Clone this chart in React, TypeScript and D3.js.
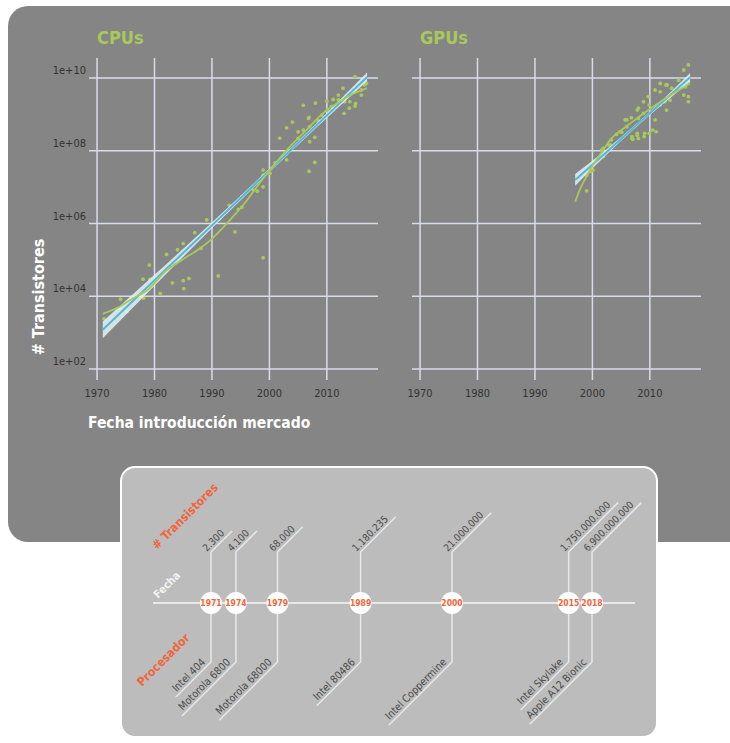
import * as d3 from "d3";

// [year, log10(# transistores)]
const cpuPoints: [number, number][] = [
  [1971.2, 3.38], [1974.1, 3.92], [1974, 3.67], [1975.2, 3.58], [1976.1, 3.94],
  [1978.1, 3.95], [1978, 4.47], [1979.1, 4.86], [1979.2, 4.47], [1981, 4.08],
  [1982.1, 5.15], [1983.1, 4.37], [1984, 5.28], [1985, 5.45], [1985, 4.43],
  [1985.1, 4.21], [1986, 4.49], [1987, 5.75], [1988.1, 5.32], [1989.1, 6.1],
  [1991.1, 4.56], [1991.3, 6.13], [1993, 6.5], [1994, 5.77], [1994.6, 6.39],
  [1995.2, 6.74], [1995.2, 6.45], [1997.2, 6.92], [1997.9, 6.89], [1998.9, 5.06],
  [1998.9, 7.01], [1998.9, 7.33], [1998.9, 7.47], [2000.1, 7.38], [2001, 7.67],
  [2001.8, 8.35], [2003, 7.75], [2003.3, 8.02], [2003, 8.63], [2004, 8.79],
  [2005, 8.34], [2005, 8.52], [2005.9, 8.57], [2005.9, 9.25], [2006.9, 8.92],
  [2006.8, 8.89], [2007, 8.66], [2007, 8.25], [2006.9, 7.44], [2007.9, 7.68],
  [2007.9, 8.37], [2008, 9.31], [2008.5, 8.83], [2009.1, 8.98], [2010, 9.36],
  [2010.1, 9.12], [2010.8, 9.21], [2011.1, 9.41], [2012, 9.53], [2012, 9.3],
  [2012, 9.4], [2012.8, 9.72], [2013, 9.03], [2013.1, 9.35], [2013.9, 9.17],
  [2014, 9.35], [2014.9, 10.04], [2014.9, 9.23], [2015, 9.3], [2015.7, 9.85],
  [2016, 9.67], [2016, 9.53], [2016.6, 9.81], [2016.9, 9.85],
];

const gpuPoints: [number, number][] = [
  [1999, 6.9], [1999, 7.33], [1999.7, 7.43], [2000.1, 7.47], [2000.4, 7.7],
  [2001.6, 8.02], [2001.9, 7.84], [2001.9, 8.07], [2002.8, 8.16], [2003.1, 8.16],
  [2003.3, 8.3], [2004.2, 8.45], [2004.8, 8.52], [2005.1, 8.51], [2005.7, 8.85],
  [2006, 8.85], [2006, 8.66], [2006.8, 8.91], [2006.9, 8.39], [2006.9, 8.34],
  [2007, 8.32], [2007.8, 8.48], [2007.8, 8.43], [2007.8, 9.12], [2008, 9.17],
  [2008, 8.89], [2008, 8.34], [2008.9, 9.03], [2008.9, 9.35], [2009, 8.39],
  [2009.1, 8.48], [2009.7, 9.49], [2009.9, 9.26], [2009.9, 8.48], [2010.5, 8.57],
  [2010.9, 8.85], [2010.9, 9.67], [2011.1, 8.52], [2011.8, 9.62], [2011.8, 9.85],
  [2011.8, 9.26], [2012.6, 9.35], [2012.8, 9.81], [2012.9, 9.12], [2013, 9.81],
  [2013.5, 9.39], [2013.8, 9.72], [2015, 9.94], [2015.9, 10.22], [2015.9, 9.53],
  [2016.2, 9.76], [2016.7, 10.36], [2016.7, 9.9], [2016.7, 9.49], [2016.7, 9.35],
];

// linear fit (log10) with its confidence band: year, fit, half width
const cpuFitYears = [1971, 1980, 1990, 2000, 2008, 2017];
const cpuFitMid = [3.08, 4.44, 5.95, 7.46, 8.67, 10.03];
const cpuFitHalf = [0.23, 0.15, 0.08, 0.05, 0.06, 0.12];

const gpuFitYears = [1997, 2002, 2007, 2012, 2017];
const gpuFitMid = [7.2, 7.9, 8.61, 9.31, 10.02];
const gpuFitHalf = [0.16, 0.08, 0.045, 0.06, 0.12];

// loess smooth
const cpuSmoothYears = [1971, 1974, 1976, 1979, 1982, 1985, 1988, 1990, 1992, 1994, 1996, 1998, 2000, 2003, 2006, 2010, 2012, 2014.5, 2017];
const cpuSmooth = [3.52, 3.72, 3.92, 4.2, 4.7, 5.02, 5.33, 5.58, 5.9, 6.25, 6.62, 7.05, 7.45, 8.02, 8.5, 9.12, 9.33, 9.56, 9.72];
const gpuSmoothYears = [1997, 1998, 1999, 2000, 2002, 2003, 2006, 2008, 2010, 2013.5, 2017];
const gpuSmooth = [6.6, 7.0, 7.3, 7.58, 8.05, 8.28, 8.68, 8.92, 9.15, 9.52, 9.85];

const xTicks = [1970, 1980, 1990, 2000, 2010];
const yTicks = [1e2, 1e4, 1e6, 1e8, 1e10];
const yTickLabels = ["1e+02", "1e+04", "1e+06", "1e+08", "1e+10"];

// timeline
const tlYears = [1971, 1974, 1979, 1989, 2000, 2015, 2018];
const tlTransistors = ["2.300", "4.100", "68.000", "1.180.235", "21.000.000", "1.750.000.000", "6.900.000.000"];
const tlProcessors = ["Intel 404", "Motorola 6800", "Motorola 68000", "Intel 80486", "Intel Coppermine", "Intel Skylake", "Apple A12 Bionic"];

const FONT = "'DejaVu Sans Condensed', 'DejaVu Sans', sans-serif";
const GREEN = "#a9c85b";
const BLUE = "#52b8d8";
const ORANGE = "#f0653a";
const GRID = "#d9dbe8";

let ctx: CanvasRenderingContext2D | null = null;
function textWidth(s: string, font: string) {
  if (!ctx) ctx = document.createElement("canvas").getContext("2d");
  if (!ctx) return s.length * 5.3;
  ctx.font = font;
  return ctx.measureText(s).width;
}

function Panel(props: {
  left: number;
  title: string;
  points: [number, number][];
  fitYears: number[];
  fitMid: number[];
  fitHalf: number[];
  smYears: number[];
  sm: number[];
  showY: boolean;
}) {
  const { left, title, points, fitYears, fitMid, fitHalf, smYears, sm, showY } = props;
  const x = d3.scaleLinear().domain([1968.6, 2018.9]).range([left, left + 289]);
  const y = d3.scaleLog().domain([10 ** 1.7, 10 ** 10.55]).range([380, 58]);
  const yl = (v: number) => y(10 ** v);

  const band = d3
    .area<number>()
    .x((i) => x(fitYears[i]))
    .y0((i) => yl(fitMid[i] - fitHalf[i]))
    .y1((i) => yl(fitMid[i] + fitHalf[i]))
    .curve(d3.curveMonotoneX);
  const fitLine = d3
    .line<number>()
    .x((i) => x(fitYears[i]))
    .y((i) => yl(fitMid[i]));
  const smLine = d3
    .line<number>()
    .x((i) => x(smYears[i]))
    .y((i) => yl(sm[i]))
    .curve(d3.curveMonotoneX);

  const fitIdx = d3.range(fitYears.length);
  const smIdx = d3.range(smYears.length);

  return (
    <g>
      <text x={left + 8} y={43.5} fill={GREEN} fontFamily={FONT} fontWeight="bold" fontSize={18}>
        {title}
      </text>
      {xTicks.map((t) => (
        <line key={"vx" + t} x1={x(t)} x2={x(t)} y1={58} y2={380} stroke={GRID} strokeWidth={1.5} />
      ))}
      {yTicks.map((t) => (
        <line key={"hy" + t} x1={left} x2={left + 289} y1={y(t)} y2={y(t)} stroke={GRID} strokeWidth={1.5} />
      ))}
      {xTicks.map((t) => (
        <text key={"tx" + t} x={x(t)} y={397} textAnchor="middle" fontFamily={FONT} fontSize={11} fill="#333">
          {t}
        </text>
      ))}
      {showY &&
        yTicks.map((t, i) => (
          <text key={"ty" + t} x={left - 3} y={y(t) - 4} textAnchor="end" fontFamily={FONT} fontSize={11} fill="#333">
            {yTickLabels[i]}
          </text>
        ))}
      {points.map((p, i) => (
        <circle key={"p" + i} cx={x(p[0])} cy={yl(p[1])} r={1.9} fill={GREEN} />
      ))}
      <path d={band(fitIdx) ?? ""} fill="#e4f3f7" fillOpacity={0.85} />
      <path d={fitLine(fitIdx) ?? ""} fill="none" stroke={BLUE} strokeWidth={2} />
      <path d={smLine(smIdx) ?? ""} fill="none" stroke={GREEN} strokeWidth={1.8} />
    </g>
  );
}

function Timeline() {
  const tx = d3.scaleLinear().domain([1971, 2000, 2018]).range([211, 452, 592]);
  const lineY = 603;
  const upKnee = 552;
  const downKnee = 662;
  const numFont = `10px ${FONT}`;
  const procFont = `10.5px ${FONT}`;
  const c = Math.SQRT1_2;
  const stroke = "#e8e8e8";
  return (
    <g>
      <line x1={153} x2={635} y1={lineY} y2={lineY} stroke={stroke} strokeWidth={1.8} />
      {tlYears.map((yr, i) => {
        const cx = tx(yr);
        const lu = textWidth(tlTransistors[i], numFont) + 4;
        const ld = textWidth(tlProcessors[i], procFont) + 8;
        return (
          <g key={yr}>
            <polyline
              points={`${cx},${lineY} ${cx},${upKnee} ${cx + lu * c},${upKnee - lu * c}`}
              fill="none"
              stroke={stroke}
              strokeWidth={1.5}
            />
            <polyline
              points={`${cx},${lineY} ${cx},${downKnee} ${cx - ld * c},${downKnee + ld * c}`}
              fill="none"
              stroke={stroke}
              strokeWidth={1.5}
            />
            <g transform={`translate(${cx},${upKnee}) rotate(-45)`}>
              <text x={-3} y={-3} fontFamily={FONT} fontSize={10} fill="#4a4a4a">
                {tlTransistors[i]}
              </text>
            </g>
            <g transform={`translate(${cx},${downKnee}) rotate(-45)`}>
              <text x={-4} y={-3} textAnchor="end" fontFamily={FONT} fontSize={10.5} fill="#4a4a4a">
                {tlProcessors[i]}
              </text>
            </g>
            <circle cx={cx} cy={lineY} r={11} fill="#fff" />
            <text x={cx} y={lineY + 3} textAnchor="middle" fontFamily={FONT} fontWeight="bold" fontSize={8.5} fill={ORANGE}>
              {yr}
            </text>
          </g>
        );
      })}
      <text transform="translate(157,550) rotate(-45)" fontFamily={FONT} fontWeight="bold" fontSize={12} fill={ORANGE}>
        # Transistores
      </text>
      <text transform="translate(158,599) rotate(-45)" fontFamily={FONT} fontWeight="bold" fontSize={11} fill="#f2f2f2">
        Fecha
      </text>
      <text transform="translate(142,687) rotate(-45)" fontFamily={FONT} fontWeight="bold" fontSize={12} fill={ORANGE}>
        Procesador
      </text>
    </g>
  );
}

export default function App() {
  return (
    <svg
      width={730}
      height={743}
      style={{ position: "absolute", left: 0, top: 0, background: "#fff" }}
    >
      <rect x={8} y={6} width={780} height={536} rx={20} fill="#858585" />
      <Panel
        left={89}
        title="CPUs"
        points={cpuPoints}
        fitYears={cpuFitYears}
        fitMid={cpuFitMid}
        fitHalf={cpuFitHalf}
        smYears={cpuSmoothYears}
        sm={cpuSmooth}
        showY={true}
      />
      <Panel
        left={412}
        title="GPUs"
        points={gpuPoints}
        fitYears={gpuFitYears}
        fitMid={gpuFitMid}
        fitHalf={gpuFitHalf}
        smYears={gpuSmoothYears}
        sm={gpuSmooth}
        showY={false}
      />
      <text transform="translate(44,297) rotate(-90)" textAnchor="middle" fontFamily={FONT} fontWeight="bold" fontSize={16} fill="#fff">
        # Transistores
      </text>
      <text x={88} y={428} fontFamily={FONT} fontWeight="bold" fontSize={15.5} fill="#fff">
        Fecha introducción mercado
      </text>
      <rect x={121} y={467} width={536} height={270} rx={14} fill="#bcbcbc" stroke="#fff" strokeWidth={2} />
      <Timeline />
    </svg>
  );
}
